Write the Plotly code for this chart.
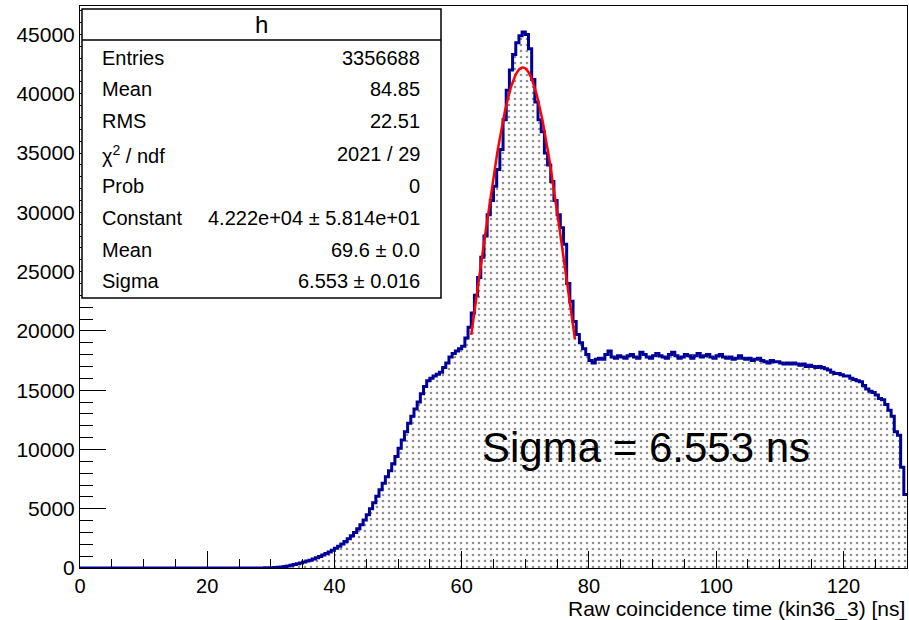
import numpy as np
import plotly.graph_objects as go

# ---- data ----
bin_width = 0.5
x_min, x_max = 0.0, 130.0
counts = [
    # 0 - 29.5
    0, 0, 0, 0, 0, 0, 0, 0, 0, 0,
    0, 0, 0, 0, 0, 0, 0, 0, 0, 0,
    0, 0, 0, 0, 0, 0, 0, 0, 0, 0,
    0, 0, 0, 0, 0, 0, 0, 0, 0, 0,
    0, 0, 0, 0, 0, 0, 0, 0, 0, 0,
    0, 0, 0, 0, 0, 0, 5, 10, 15, 20,
    # 30 - 39.5
    30, 45, 60, 90, 120, 170, 230, 290, 360, 430,
    500, 580, 660, 760, 860, 970, 1090, 1220, 1360, 1500,
    # 40 - 49.5
    1660, 1840, 2030, 2240, 2470, 2720, 3000, 3300, 3650, 4050,
    4500, 5000, 5500, 6050, 6600, 7150, 7700, 8200, 8800, 9400,
    # 50 - 59.5
    10100, 10800, 11500, 12200, 12800, 13400, 14000, 14700, 15300, 15800,
    16000, 16200, 16350, 16500, 16900, 17300, 17800, 18100, 18300, 18500,
    # 60 - 69.5
    18700, 19400, 20300, 21500, 23000, 24500, 26200, 28000, 29800, 31000,
    32200, 33600, 35300, 37800, 40300, 42000, 43300, 44300, 44900, 45200,
    # 70 - 79.5
    45000, 43800, 41200, 39300, 37800, 36800, 35000, 34000, 32600, 31000,
    29800, 28700, 27300, 24000, 22500, 20800, 19700, 19000, 18500, 18000,
    # 80 - 89.5
    17500, 17300, 17600, 17700, 17600, 18000, 18300, 17800, 17700, 17900,
    17800, 17700, 17900, 18000, 17800, 17700, 18200, 18000, 17800, 17700,
    # 90 - 99.5
    17900, 18100, 17900, 17800, 17700, 18000, 18200, 17900, 17700, 17800,
    18000, 17900, 17700, 17900, 18100, 17800, 17900, 18000, 17800, 17700,
    # 100 - 109.5
    17900, 18000, 17800, 17700, 17800, 17600, 17700, 17900, 17700, 17600,
    17700, 17500, 17600, 17700, 17500, 17400, 17300, 17500, 17400, 17400,
    # 110 - 119.5
    17300, 17200, 17300, 17200, 17300, 17200, 17100, 17200, 17000, 17100,
    17000, 16900, 17000, 16900, 16800, 16700, 16500, 16400, 16400, 16300,
    # 120 - 129.5
    16200, 16200, 16000, 15900, 15800, 15700, 15400, 15100, 14900, 14800,
    14600, 14300, 14200, 13800, 13300, 12800, 11500, 11200, 8500, 6200,
]

# Gaussian fit parameters (from stats box)
fit_const, fit_mean, fit_sigma = 42220.0, 69.6, 6.553
fit_range = (61.5, 77.8)

x_ticks = [0, 20, 40, 60, 80, 100, 120]
x_ticklabels = ["0", "20", "40", "60", "80", "100", "120"]
y_ticks = [0, 5000, 10000, 15000, 20000, 25000, 30000, 35000, 40000, 45000]
y_ticklabels = ["0", "5000", "10000", "15000", "20000", "25000", "30000", "35000", "40000", "45000"]

stats_rows = [
    ("Entries", "3356688"),
    ("Mean", "84.85"),
    ("RMS", "22.51"),
    ("χ<sup>2</sup> / ndf", "2021 / 29"),
    ("Prob", "0"),
    ("Constant", "4.222e+04 ± 5.814e+01"),
    ("Mean", "69.6 ± 0.0"),
    ("Sigma", "6.553 ± 0.016"),
]

# ---- build figure ----
edges = np.arange(len(counts) + 1) * bin_width + x_min
ystep = list(counts) + [counts[-1]]

fig = go.Figure()
fig.add_trace(go.Scatter(
    x=edges, y=ystep, mode="lines", line_shape="hv",
    line=dict(color="#000099", width=3),
    fill="tozeroy", fillcolor="white",
    fillpattern=dict(shape=".", fgcolor="#222222", bgcolor="white", size=6, solidity=0.15),
    hoverinfo="skip", showlegend=False,
))
gx = np.linspace(fit_range[0], fit_range[1], 200)
gy = fit_const * np.exp(-0.5 * ((gx - fit_mean) / fit_sigma) ** 2)
fig.add_trace(go.Scatter(x=gx, y=gy, mode="lines", line=dict(color="red", width=2.5),
                         hoverinfo="skip", showlegend=False))

FONT = "Liberation Sans, Arial, Helvetica, sans-serif"
W, H = 909, 620
L, R, T, B = 80, 2, 6, 52
pw, ph = W - L - R, H - T - B

def px(xp):
    return (xp - L) / pw

def py(yp):
    return (H - B - yp) / ph

fig.update_layout(
    width=W, height=H,
    margin=dict(l=L, r=R, t=T, b=B),
    paper_bgcolor="white", plot_bgcolor="white",
    font=dict(family=FONT, size=20, color="black"),
    xaxis=dict(range=[x_min, x_max], tickvals=x_ticks, ticktext=x_ticklabels, ticks="inside", ticklen=17,
               tickcolor="black", showline=True, linecolor="black", linewidth=1,
               mirror=True, showgrid=False, zeroline=False,
               minor=dict(dtick=5, ticks="inside", ticklen=9, tickcolor="black"),
               tickfont=dict(size=20)),
    yaxis=dict(range=[0, 47400], tickvals=y_ticks, ticktext=y_ticklabels, ticks="inside", ticklen=26,
               tickcolor="black", showline=True, linecolor="black", linewidth=1,
               mirror=True, showgrid=False, zeroline=False,
               minor=dict(dtick=1000, ticks="inside", ticklen=13, tickcolor="black"),
               tickfont=dict(size=21)),
)

# x-axis title (right aligned like ROOT)
fig.add_annotation(x=1.0, y=py(609), xref="paper", yref="paper", text="Raw coincidence time (kin36_3) [ns]",
                   showarrow=False, xanchor="right", yanchor="middle", font=dict(size=21))

# stats box
bx0, bx1, by0, by1, bsep = 82, 441, 9, 298, 40
fig.add_shape(type="rect", xref="paper", yref="paper", x0=px(bx0), x1=px(bx1), y0=py(by1), y1=py(by0),
              line=dict(color="black", width=1.5), fillcolor="white", layer="above")
fig.add_shape(type="line", xref="paper", yref="paper", x0=px(bx0), x1=px(bx1), y0=py(bsep), y1=py(bsep),
              line=dict(color="black", width=1.5), layer="above")
fig.add_annotation(x=px((bx0 + bx1) / 2), y=py(24), xref="paper", yref="paper", text="h",
                   showarrow=False, xanchor="center", yanchor="middle", font=dict(size=24))
row_y = [58, 89, 121, 154, 186, 218, 250, 281]
for (lab, val), yy in zip(stats_rows, row_y):
    fig.add_annotation(x=px(100), y=py(yy), xref="paper", yref="paper", text=lab, showarrow=False,
                       xanchor="left", yanchor="middle", font=dict(size=20))
    fig.add_annotation(x=px(422), y=py(yy), xref="paper", yref="paper", text=val, showarrow=False,
                       xanchor="right", yanchor="middle", font=dict(size=20))

# big annotation
fig.add_annotation(x=px(480), y=py(447), xref="paper", yref="paper", text="Sigma = 6.553 ns",
                   showarrow=False, xanchor="left", yanchor="middle", font=dict(size=42))

fig.write_html("out.html")
